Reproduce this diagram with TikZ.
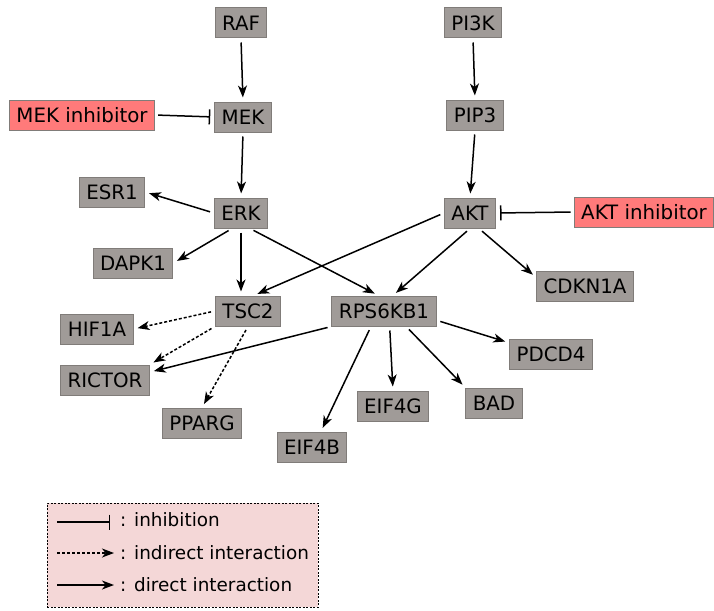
\documentclass[tikz,border=0pt]{standalone}
\usepackage{fontspec}
\setmainfont{DejaVu Sans}
\usetikzlibrary{arrows.meta, positioning}

\definecolor{protgray}{RGB}{160,155,152}
\definecolor{protedge}{RGB}{128,124,121}
\definecolor{drugred}{RGB}{255,122,122}
\definecolor{legpink}{RGB}{244,215,215}

\begin{document}
\begin{tikzpicture}[
  x=1pt, y=-1pt,
  prot/.style={rectangle, draw=protedge, line width=1pt, fill=protgray, minimum height=30pt, inner xsep=7pt, inner ysep=0pt, font=\fontsize{19.8}{22}\selectfont},
  drug/.style={prot, fill=drugred},
  leg/.style={font=\fontsize{18.4}{21}\selectfont, anchor=west, inner sep=0pt},
  direct/.style={-{Stealth[length=12pt, width=9pt, inset=3.5pt]}, line width=1.5pt, shorten <=4pt, shorten >=4pt},
  indirect/.style={direct, dashed, dash pattern=on 3pt off 2pt},
  inhib/.style={-{Bar[width=15pt, line width=1.5pt]}, line width=1.5pt, shorten <=3pt, shorten >=4pt}
]
\useasboundingbox (0,0) rectangle (714,610);
% proteins
\node[prot] (raf) at (241,23) {RAF};
\node[prot] (pi3k) at (473,23) {PI3K};
\node[drug] (mekinh) at (82,115) {MEK inhibitor};
\node[prot] (mek) at (243,117) {MEK};
\node[prot] (pip3) at (475,115) {PIP3};
\node[prot] (esr1) at (112,192) {ESR1};
\node[prot] (erk) at (241,213) {ERK};
\node[prot] (akt) at (470,213) {AKT};
\node[drug] (aktinh) at (644,212) {AKT inhibitor};
\node[prot] (dapk1) at (133,263) {DAPK1};
\node[prot] (cdkn1a) at (585,286) {CDKN1A};
\node[prot] (tsc2) at (248,311) {TSC2};
\node[prot] (rps) at (384,311) {RPS6KB1};
\node[prot] (hif1a) at (97,329) {HIF1A};
\node[prot] (rictor) at (105,380) {RICTOR};
\node[prot] (pdcd4) at (551,354) {PDCD4};
\node[prot] (pparg) at (202,423) {PPARG};
\node[prot] (eif4g) at (393,406) {EIF4G};
\node[prot] (bad) at (494,403) {BAD};
\node[prot] (eif4b) at (312,447) {EIF4B};
% interactions
\draw[direct] (raf.south) -- (mek.north);
\draw[direct] (pi3k.south) -- (pip3.north);
\draw[direct] (pip3.south) -- (akt.north);
\draw[direct] (mek.south) -- (erk.north);
\draw[inhib] (mekinh.east) -- (mek.west);
\draw[inhib] (aktinh.west) -- (akt.east);
\draw[direct] (erk.west) -- (esr1.east);
\draw[direct] (erk.-120) -- (dapk1.east);
\draw[direct] (erk.south) -- (erk.south |- tsc2.north);
\draw[direct] (erk.-60) -- (rps.110);
\draw[direct] (akt.west) -- (tsc2.70);
\draw[direct] (akt.south) -- (rps.60);
\draw[direct] (akt.-60) -- (cdkn1a.170);
\draw[indirect] (tsc2.west) -- (hif1a.east);
\draw[indirect] (tsc2.south west) -- (rictor.north east);
\draw[indirect] (tsc2.south) -- (pparg.north);
\draw[direct] (rps.south west) -- (rictor.10);
\draw[direct] (rps.-130) -- (eif4b.60);
\draw[direct] (rps.-70) -- (eif4g.north);
\draw[direct] (rps.-35) -- (bad.north west);
\draw[direct] (rps.-10) -- (pdcd4.165);
% legend
\node[draw=black, line width=1pt, dash pattern=on 2pt off 1.5pt, fill=legpink, minimum width=271pt, minimum height=104pt, inner sep=0pt] (legend) at (182.5,555) {};
\coordinate (l1a) at (57,522);
\coordinate (l1b) at (110,522);
\coordinate (l2a) at (57,553);
\coordinate (l2b) at (114,553);
\coordinate (l3a) at (57,585);
\coordinate (l3b) at (114,585);
\draw[inhib, shorten <=0pt, shorten >=0pt] (l1a) -- (l1b);
\draw[indirect, line width=1.1pt, shorten <=0pt, shorten >=0pt] (l2a) -- (l2b);
\draw[direct, shorten <=0pt, shorten >=0pt] (l3a) -- (l3b);
\node[leg] (t1) at (120,520) {: inhibition};
\node[leg] (t2) at (120,553) {: indirect interaction};
\node[leg] (t3) at (120,585) {: direct interaction};
\end{tikzpicture}
\end{document}
